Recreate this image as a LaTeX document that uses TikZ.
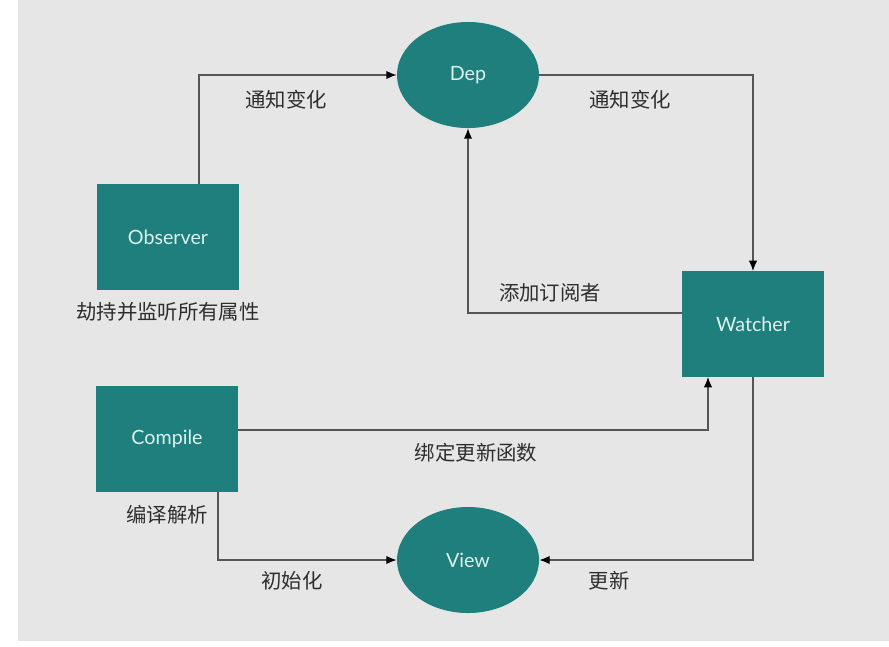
\documentclass[tikz,border=0pt]{standalone}
\usepackage{fontspec}
\setmainfont{Lato}
\newfontfamily\cjk{Noto Sans CJK SC}
\usetikzlibrary{shapes.geometric,calc,arrows.meta}
\definecolor{vuegreen}{HTML}{1E7F7C}
\definecolor{nodetext}{HTML}{DDF0EC}
\definecolor{canvas}{HTML}{E6E6E6}
\definecolor{linegray}{HTML}{555555}
\definecolor{labeltext}{HTML}{2E2E2E}
\tikzset{
  box/.style={rectangle, fill=vuegreen, inner sep=0pt, minimum width=3.55cm, minimum height=2.63cm,
    text=nodetext, font=\fontsize{14}{16}\selectfont},
  oval/.style={ellipse, fill=vuegreen, inner sep=0pt, minimum width=3.55cm, minimum height=2.65cm,
    text=nodetext, font=\fontsize{14}{16}\selectfont},
  lbl/.style={text=labeltext, font=\cjk\fontsize{14.5}{17}\selectfont},
  link/.style={draw=linegray, line width=1pt, ->, >={Latex[length=2.6mm,width=2.1mm,black]}}
}
\begin{document}
\begin{tikzpicture}[x=0.025cm, y=-0.025cm]
  % canvas, pixel coordinates of the 889x646 picture
  \useasboundingbox (0,0) rectangle (889,646);
  \fill[canvas] (18,0) rectangle (889,641);

  % the five parts
  \node[box]  (obs)  at (168,237) {Observer};
  \node[oval] (dep)  at (468,75)  {Dep};
  \node[box]  (wat)  at (753,324) {Watcher};
  \node[box]  (comp) at (167,439) {Compile};
  \node[oval] (view) at (468,560) {View};

  % connectors
  \draw[link] ($(obs.north)+(31,0)$) |- (dep.west);
  \draw[link] (dep.east) -| (wat.north);
  \draw[link] ($(wat.west)+(0,-11)$) -| (dep.south);
  \draw[link] ($(comp.east)+(0,-9)$) -| ($(wat.south)+(-45,0)$);
  \draw[link] ($(comp.south)+(51,0)$) |- (view.west);
  \draw[link] (wat.south) |- (view.east);

  % texts
  \node[lbl] (notify1) at (286,100) {通知变化};
  \node[lbl] (notify2) at (630,100) {通知变化};
  \node[lbl] (hijack)  at (168,312) {劫持并监听所有属性};
  \node[lbl] (subscr)  at (550,293) {添加订阅者};
  \node[lbl] (bind)    at (476,453) {绑定更新函数};
  \node[lbl] (parse)   at (167,515) {编译解析};
  \node[lbl] (init)    at (292,581) {初始化};
  \node[lbl] (update)  at (609,581) {更新};
\end{tikzpicture}
\end{document}
